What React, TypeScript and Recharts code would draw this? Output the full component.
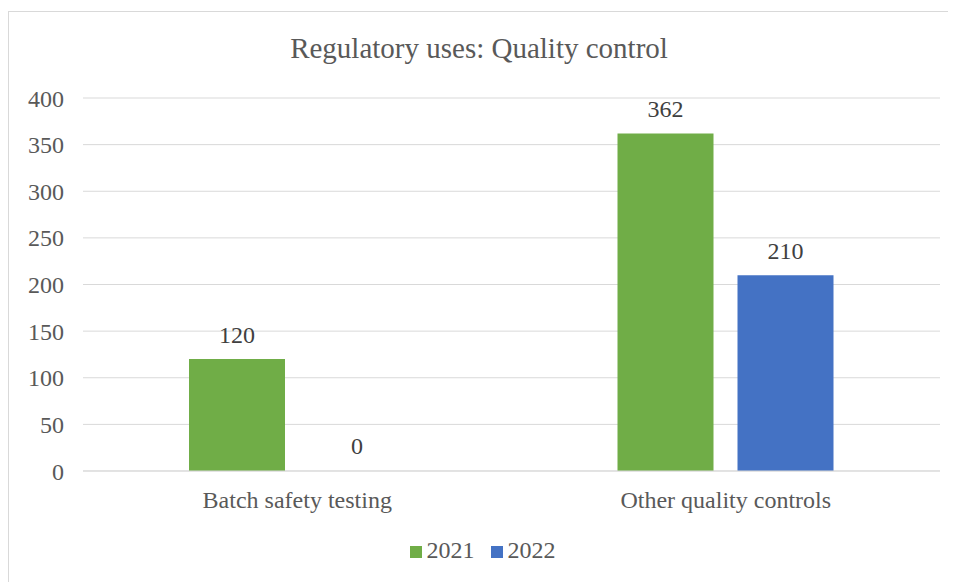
import { BarChart, Bar, XAxis, YAxis, CartesianGrid, Legend, LabelList, Rectangle } from 'recharts'

const categories = ['Batch safety testing', 'Other quality controls']
const values2021 = [120, 362]
const values2022 = [0, 210]
const yTicks = [0, 50, 100, 150, 200, 250, 300, 350, 400]

const data = categories.map((name, i) => ({
  name,
  y2021: values2021[i],
  y2022: values2022[i],
}))

const FONT = '"Liberation Serif", "Times New Roman", serif'

// etiqueta de valor sobre cada barra (también para 0)
const ValueLabel = (props: any) => {
  const { x, y, width, height, value } = props
  if (value == null) return null
  const top = Number(height) < 0 ? Number(y) + Number(height) : Number(y)
  return (
    <text
      x={Number(x) + Number(width) / 2}
      y={top - 16}
      textAnchor="middle"
      fill="#404040"
      fontSize={24}
      fontFamily={FONT}
    >
      {value}
    </text>
  )
}

// barra de valor 0: no se dibuja, solo queda la etiqueta
const BarShape = (props: any) => {
  if (Math.abs(Number(props.height)) <= 1) return <g />
  return <Rectangle {...props} />
}

export default function App() {
  return (
    <div
      style={{
        position: 'relative',
        marginTop: 3,
        width: 940,
        height: 570,
        border: '1px solid #d9d9d9',
        background: '#fff',
        fontFamily: FONT,
      }}
    >
      <div
        style={{
          position: 'absolute',
          top: 18,
          left: 0,
          width: 940,
          textAlign: 'center',
          fontSize: 29,
          lineHeight: '36px',
          color: '#595959',
        }}
      >
        Regulatory uses: Quality control
      </div>
      <BarChart
        width={940}
        height={570}
        data={data}
        margin={{ top: 86, right: 9, left: 0, bottom: 17 }}
        barGap={24}
        barSize={96}
      >
        <CartesianGrid vertical={false} stroke="#d9d9d9" />
        <XAxis
          dataKey="name"
          axisLine={{ stroke: '#d9d9d9' }}
          tickLine={false}
          tick={{ fill: '#595959', fontSize: 24, fontFamily: FONT }}
          tickMargin={14}
          height={64}
        />
        <YAxis
          domain={[0, 400]}
          ticks={yTicks}
          axisLine={false}
          tickLine={false}
          width={74}
          tickMargin={13}
          tick={{ fill: '#595959', fontSize: 24, fontFamily: FONT }}
        />
        <Legend
          verticalAlign="bottom"
          iconType="square"
          iconSize={12}
          wrapperStyle={{ fontSize: 24, fontFamily: FONT, lineHeight: '30px', paddingLeft: 16 }}
          formatter={(v) => <span style={{ color: '#595959', marginLeft: 1, marginRight: 6 }}>{v}</span>}
        />
        <Bar dataKey="y2021" name="2021" fill="#70ad47" isAnimationActive={false}>
          <LabelList dataKey="y2021" content={ValueLabel} />
        </Bar>
        <Bar
          dataKey="y2022"
          name="2022"
          fill="#4472c4"
          minPointSize={1}
          shape={BarShape}
          isAnimationActive={false}
        >
          <LabelList dataKey="y2022" content={ValueLabel} />
        </Bar>
      </BarChart>
    </div>
  )
}
